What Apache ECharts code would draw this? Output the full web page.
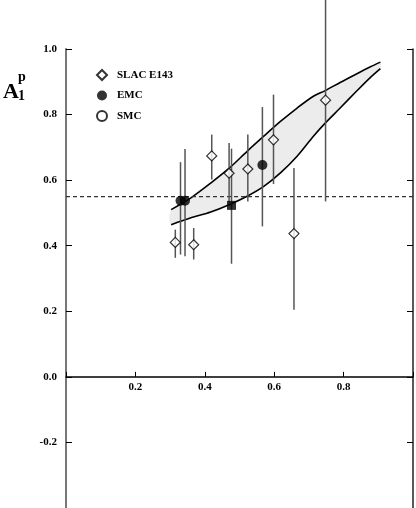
<!DOCTYPE html>
<html>
<head>
<meta charset="utf-8">
<script src="https://cdn.jsdelivr.net/npm/echarts@6/dist/echarts.min.js"></script>
<style>
  html, body { margin: 0; padding: 0; background: #fff; }
  #chart { width: 416px; height: 508px; }
</style>
</head>
<body>
<div id="chart"></div>
<script>
// SLAC E143 points: x, A1p, error bar low/high
const slacX = [0.315, 0.368, 0.420, 0.470, 0.524, 0.598, 0.657, 0.748]
const slacY = [0.410, 0.403, 0.674, 0.621, 0.634, 0.723, 0.437, 0.844]
const slacLo = [0.363, 0.358, 0.602, 0.530, 0.535, 0.588, 0.205, 0.535]
const slacHi = [0.449, 0.454, 0.739, 0.713, 0.739, 0.861, 0.637, 1.153]

// EMC points
const emcX = [0.330, 0.343, 0.566]
const emcY = [0.537, 0.537, 0.646]
const emcLo = [0.373, 0.368, 0.459]
const emcHi = [0.655, 0.695, 0.823]

// filled square point (not in legend)
const sqX = [0.477]
const sqY = [0.523]
const sqLo = [0.345]
const sqHi = [0.696]

// band edges
const bandX = [0.303, 0.360, 0.417, 0.472, 0.522, 0.570, 0.618, 0.666, 0.713, 0.747, 0.790, 0.837, 0.876, 0.906]
const bandUpper = [0.510, 0.546, 0.591, 0.638, 0.688, 0.734, 0.779, 0.820, 0.856, 0.873, 0.898, 0.924, 0.945, 0.960]
const bandLower = [0.464, 0.485, 0.503, 0.526, 0.551, 0.581, 0.622, 0.673, 0.734, 0.774, 0.820, 0.871, 0.912, 0.940]

const dashLevel = 0.55
const xTicks = [0.2, 0.4, 0.6, 0.8]
const yTicks = [-0.2, 0.0, 0.2, 0.4, 0.6, 0.8, 1.0]
const yMin = -0.4
const yMax = 1.0

const FONT = 'Liberation Serif'
const labelStyle = { fontFamily: FONT, fontWeight: 'bold', fontSize: 11, color: '#000' }

const GRID_TOP = 49
const GRID_H = 508 - GRID_TOP
// move the x axis up to y = 0
const xAxisOffset = -GRID_H * (0 - yMin) / (yMax - yMin)

const toPts = (xs, ys) => xs.map((x, i) => [x, ys[i]])
const toBars = (xs, lo, hi) => xs.map((x, i) => [x, lo[i], hi[i]])

const errorBarSeries = (data) => ({
  type: 'custom',
  silent: true,
  z: 3,
  data,
  encode: { x: 0, y: [1, 2] },
  renderItem: (params, api) => {
    const p1 = api.coord([api.value(0), api.value(1)])
    const p2 = api.coord([api.value(0), api.value(2)])
    return {
      type: 'line',
      shape: { x1: p1[0], y1: p1[1], x2: p2[0], y2: p2[1] },
      style: { stroke: '#555', lineWidth: 1.5 }
    }
  }
})

const chart = echarts.init(document.getElementById('chart'))

const bandPoly = bandX.map((x, i) => [x, bandUpper[i]])
  .concat(bandX.map((x, i) => [x, bandLower[i]]).reverse())

chart.setOption({
  animation: false,
  grid: { left: 66, right: 3, top: GRID_TOP, bottom: 0, outerBoundsMode: 'none' },
  legend: {
    orient: 'vertical',
    left: 91,
    top: 64,
    itemWidth: 10,
    itemHeight: 10,
    itemGap: 9,
    selectedMode: false,
    data: [
      { name: 'SLAC E143', icon: 'diamond' },
      { name: 'EMC', icon: 'circle' },
      { name: 'SMC', icon: 'circle' }
    ],
    textStyle: { ...labelStyle, padding: [0, 0, 0, 5] }
  },
  graphic: [
    { type: 'text', left: 3, top: 81, style: { text: 'A', font: 'bold 22px "Liberation Serif"', fill: '#000' } },
    { type: 'text', left: 18, top: 70, style: { text: 'p', font: 'bold 14px "Liberation Serif"', fill: '#000' } },
    { type: 'text', left: 18, top: 89, style: { text: '1', font: 'bold 14px "Liberation Serif"', fill: '#000' } }
  ],
  xAxis: {
    type: 'value',
    min: 0,
    max: 1,
    interval: 0.2,
    position: 'bottom',
    offset: xAxisOffset,
    axisLine: { onZero: false, lineStyle: { color: '#000', width: 1.5 } },
    axisTick: { inside: true, length: 5, lineStyle: { color: '#000', width: 1 } },
    axisLabel: {
      ...labelStyle,
      margin: 5,
      formatter: v => xTicks.some(t => Math.abs(t - v) < 1e-6) ? v.toFixed(1) : ''
    },
    splitLine: { show: false }
  },
  yAxis: [
    {
      type: 'value',
      min: yMin,
      max: yMax,
      interval: 0.2,
      axisLine: { show: true, onZero: false, lineStyle: { color: '#777', width: 2 } },
      axisTick: { show: true, inside: true, length: 6, lineStyle: { color: '#000', width: 1 } },
      axisLabel: {
        ...labelStyle,
        margin: 9,
        formatter: v => yTicks.some(t => Math.abs(t - v) < 1e-6) ? v.toFixed(1) : ''
      },
      splitLine: { show: false }
    },
    {
      type: 'value',
      position: 'right',
      min: yMin,
      max: yMax,
      interval: 0.2,
      axisLine: { show: true, onZero: false, lineStyle: { color: '#222', width: 1.5 } },
      axisTick: { show: true, inside: true, length: 6, lineStyle: { color: '#000', width: 1 } },
      axisLabel: { show: false },
      splitLine: { show: false }
    }
  ],
  series: [
    {
      // shaded band between the two curves
      type: 'custom',
      silent: true,
      z: 1,
      data: [0],
      renderItem: (params, api) => {
        const pts = bandPoly.map(p => api.coord(p))
        const up = bandX.map((x, i) => api.coord([x, bandUpper[i]]))
        const lo = bandX.map((x, i) => api.coord([x, bandLower[i]]))
        return {
          type: 'group',
          children: [
            { type: 'polygon', shape: { points: pts, smooth: 0.3 }, style: { fill: '#ececec', stroke: null } },
            { type: 'polyline', shape: { points: up, smooth: 0.3 }, style: { stroke: '#000', lineWidth: 1.6, fill: null } },
            { type: 'polyline', shape: { points: lo, smooth: 0.3 }, style: { stroke: '#000', lineWidth: 1.6, fill: null } }
          ]
        }
      }
    },
    {
      type: 'line',
      silent: true,
      z: 2,
      symbol: 'none',
      data: [[0, dashLevel], [1, dashLevel]],
      lineStyle: { color: '#333', width: 1.2, type: [4, 3] }
    },
    errorBarSeries(toBars(slacX, slacLo, slacHi)),
    errorBarSeries(toBars(emcX, emcLo, emcHi)),
    errorBarSeries(toBars(sqX, sqLo, sqHi)),
    {
      name: 'SLAC E143',
      type: 'scatter',
      z: 5,
      symbol: 'diamond',
      symbolSize: 10,
      data: toPts(slacX, slacY),
      itemStyle: { color: '#fff', borderColor: '#000', borderWidth: 1.2 }
    },
    {
      name: 'EMC',
      type: 'scatter',
      z: 5,
      symbol: 'circle',
      symbolSize: 10,
      data: toPts(emcX, emcY),
      itemStyle: { color: '#000', borderColor: '#000', borderWidth: 0 }
    },
    {
      name: 'SMC',
      type: 'scatter',
      z: 5,
      symbol: 'circle',
      symbolSize: 10,
      data: [],
      itemStyle: { color: '#fff', borderColor: '#000', borderWidth: 1.2 }
    },
    {
      name: 'square',
      type: 'scatter',
      z: 5,
      symbol: 'rect',
      symbolSize: 9,
      data: toPts(sqX, sqY),
      itemStyle: { color: '#000' }
    }
  ]
})
</script>
</body>
</html>
